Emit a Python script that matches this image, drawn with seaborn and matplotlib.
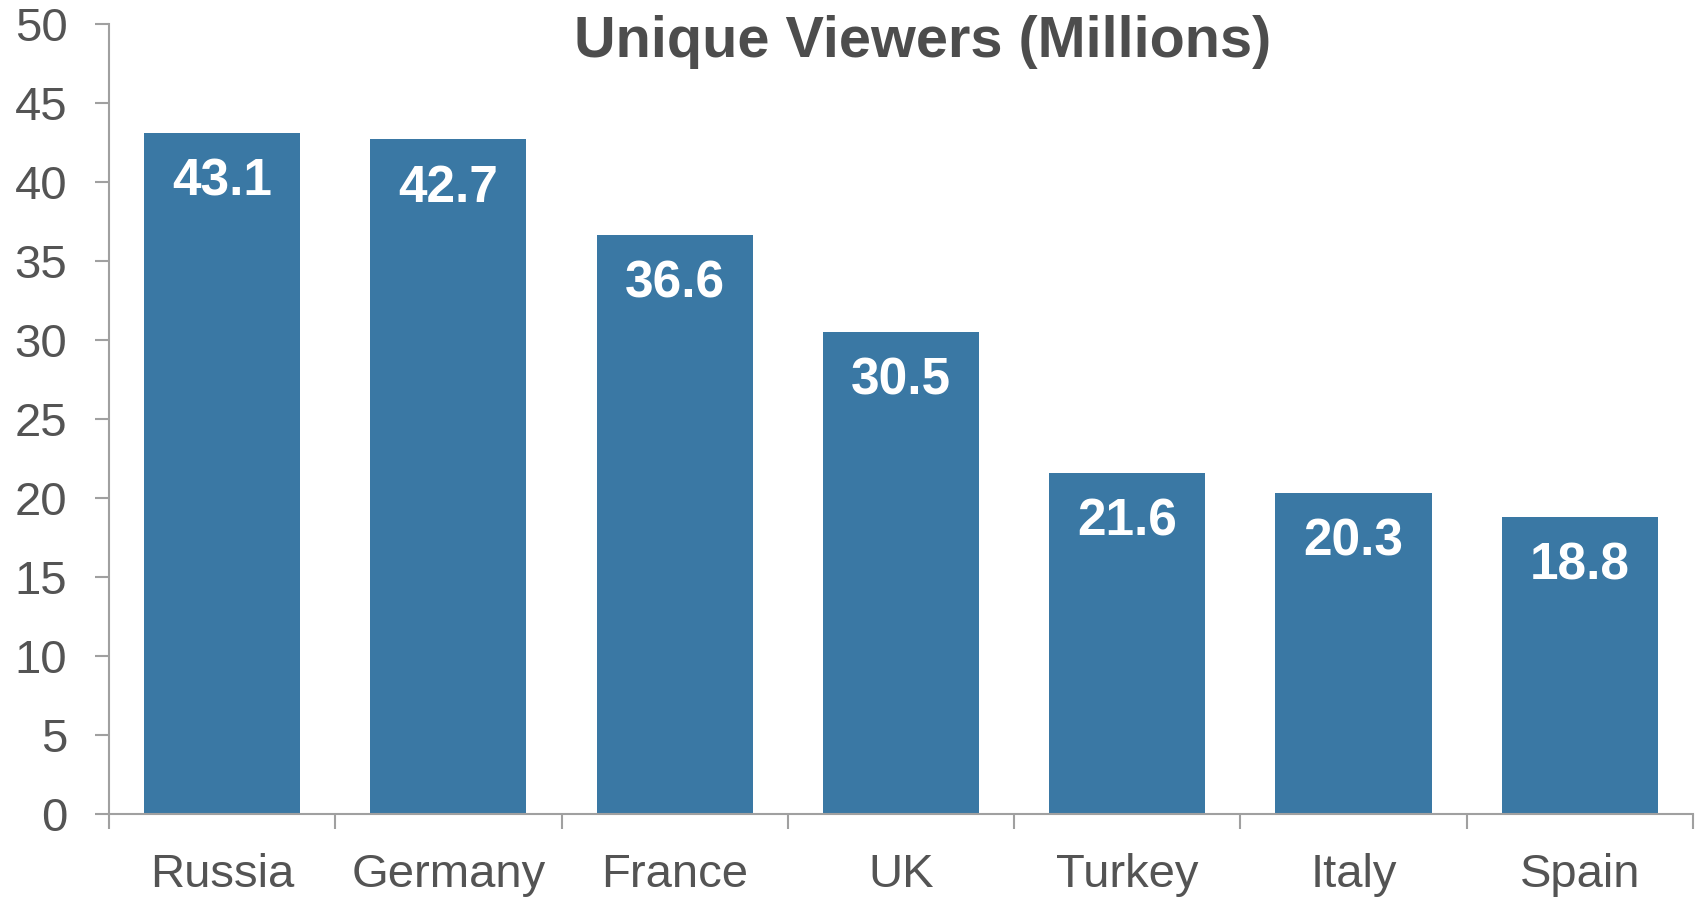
import matplotlib
matplotlib.use("Agg")
import matplotlib.pyplot as plt
from matplotlib.ticker import FixedLocator, MultipleLocator
import seaborn as sns
import pandas as pd

# Unique viewers per country, in millions
countries = ["Russia", "Germany", "France", "UK", "Turkey", "Italy", "Spain"]
viewers = [43.1, 42.7, 36.6, 30.5, 21.6, 20.3, 18.8]
title = "Unique Viewers (Millions)"

sns.set_theme(style="white")
plt.rcParams["font.family"] = ["Liberation Sans", "DejaVu Sans"]

bar_color = "#3a78a4"
text_color = "#545454"
spine_color = "#a0a0a0"

df = pd.DataFrame({"country": countries, "viewers": viewers})

fig = plt.figure(figsize=(16.98, 9.0), dpi=100)
ax = fig.add_axes([0.0642, 0.0956, 0.9328, 0.8781])

sns.barplot(data=df, x="country", y="viewers", color=bar_color,
            saturation=1, width=0.69, linewidth=0, ax=ax)

ax.set_xlim(-0.5, len(countries) - 0.5)
ax.set_ylim(0, 50)
ax.yaxis.set_major_locator(MultipleLocator(5))

# value labels inside the top of each bar
for i, v in enumerate(viewers):
    ax.annotate(f"{v:.1f}", xy=(i, v), xytext=(0, -45),
                textcoords="offset points", ha="center", va="baseline",
                color="white", fontsize=37, fontweight="bold")

ax.set_xlabel("")
ax.set_ylabel("")

for side in ("top", "right"):
    ax.spines[side].set_visible(False)
for side in ("left", "bottom"):
    ax.spines[side].set_color(spine_color)
    ax.spines[side].set_linewidth(1.5)

# category separators as ticks on the x axis
ax.xaxis.set_minor_locator(FixedLocator([i - 0.5 for i in range(len(countries) + 1)]))
ax.tick_params(axis="x", which="major", length=0, pad=28,
               labelsize=34, labelcolor=text_color)
ax.tick_params(axis="x", which="minor", bottom=True, length=11, width=1.5,
               color=spine_color, direction="out")
ax.tick_params(axis="y", which="major", left=True, length=10, width=1.5,
               color=spine_color, direction="out", pad=20,
               labelsize=34, labelcolor=text_color)

fig.text(923 / 1698, 1 - 57 / 900, title, ha="center", va="baseline",
         fontsize=41.5, fontweight="bold", color="#4d4d4d")

fig.savefig("out.png", dpi=100, facecolor="white")
